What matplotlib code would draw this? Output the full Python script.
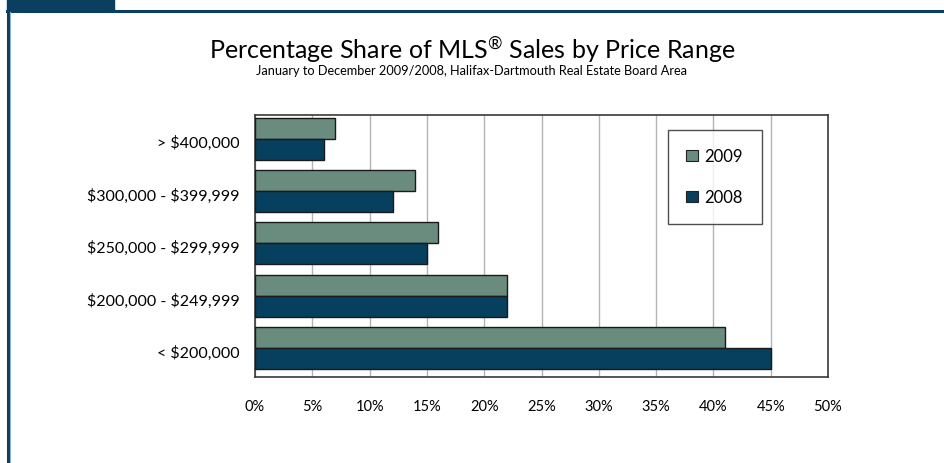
import matplotlib
matplotlib.use("Agg")
import matplotlib.pyplot as plt
from matplotlib.patches import Rectangle
from matplotlib.lines import Line2D
import numpy as np

categories = ["< $200,000", "$200,000 - $249,999", "$250,000 - $299,999",
              "$300,000 - $399,999", "> $400,000"]
values_2009 = [41, 22, 16, 14, 7]
values_2008 = [45, 22, 15, 12, 6]
xticks = [0, 5, 10, 15, 20, 25, 30, 35, 40, 45, 50]
xticklabels = [f"{v}%" for v in xticks]

C2009 = "#6a8c7e"
C2008 = "#07405f"
FRAME = "#0b3f60"

plt.rcParams['font.family'] = ['Lato', 'DejaVu Sans']
plt.rcParams['mathtext.fontset'] = 'custom'
plt.rcParams['mathtext.rm'] = 'Lato'

W, H = 944, 464
fig = plt.figure(figsize=(W / 100, H / 100), dpi=100)

# frame decorations
fig.patches.append(Rectangle((7 / W, 1 - 11 / H), (114 - 7) / W, 11 / H,
                             transform=fig.transFigure, color=FRAME, zorder=0))
fig.lines.append(Line2D([7 / W, 1], [1 - 12 / H, 1 - 12 / H], transform=fig.transFigure,
                        color=FRAME, lw=2.2))
fig.lines.append(Line2D([8 / W, 8 / W], [0, 1 - 12 / H], transform=fig.transFigure,
                        color=FRAME, lw=2.2))
fig.lines.append(Line2D([9.5 / W, 9.5 / W], [0, 1 - 13 / H], transform=fig.transFigure,
                        color="#8fb0c8", lw=0.8))

left, right, top, bottom = 255, 828, 116, 378
ax = fig.add_axes([left / W, 1 - bottom / H, (right - left) / W, (bottom - top) / H])

y = np.arange(len(categories))
h = 0.40
ax.barh(y + 0.05 + h / 2, values_2009, height=h, color=C2009, edgecolor="#1a1a1a",
        linewidth=1.0, label="2009", zorder=3)
ax.barh(y + 0.05 - h / 2, values_2008, height=h, color=C2008, edgecolor="#1a1a1a",
        linewidth=1.0, label="2008", zorder=3)

ax.set_xlim(0, 50)
ax.set_ylim(-0.5, len(categories) - 0.5)
ax.set_xticks(xticks)
ax.set_xticklabels(xticklabels, fontsize=10.5)
ax.set_yticks(y)
ax.set_yticklabels([c.replace("$", "\\$") for c in categories], fontsize=11.5)
ax.tick_params(axis='both', length=0)
ax.tick_params(axis='x', pad=16)
ax.tick_params(axis='y', pad=11)
ax.xaxis.grid(True, color="#b4b4b4", lw=1.0, zorder=0)
for s in ax.spines.values():
    s.set_color("#3a3a3a")
    s.set_linewidth(1.2)

leg = ax.legend(loc="upper left", bbox_to_anchor=((668 - left) / (right - left), 1 - (131 - top) / (bottom - top)),
                frameon=True, fontsize=12, handlelength=0.7, handleheight=0.7,
                labelspacing=1.5, borderpad=1.1, handletextpad=0.4, fancybox=False,
                borderaxespad=0)
leg.get_frame().set_edgecolor("#222222")
leg.get_frame().set_linewidth(1.0)
for p in leg.get_patches():
    p.set_edgecolor("#222222")
    p.set_linewidth(0.8)

fig.text(0.5, 1 - 60 / H,
         "Percentage Share of MLS$^{\u00ae}$ Sales by Price Range",
         ha="center", va="baseline", fontsize=18)
fig.text(0.5, 1 - 75 / H,
         "January to December 2009/2008, Halifax-Dartmouth Real Estate Board Area",
         ha="center", va="baseline", fontsize=9.2)

fig.savefig("out.png", dpi=100)
